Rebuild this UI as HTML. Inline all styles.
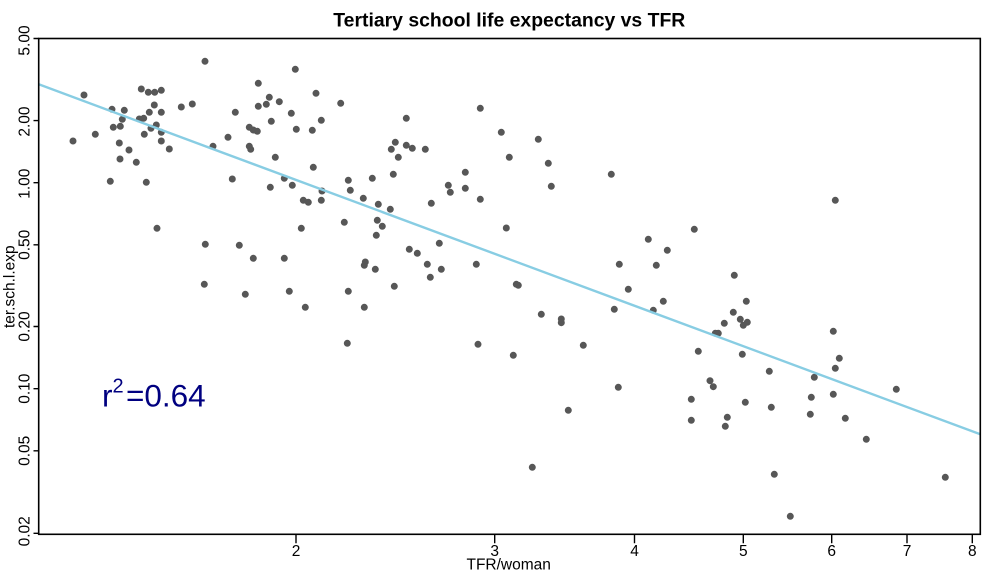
<!DOCTYPE html>
<html>
<head>
<meta charset="utf-8">
<style>
html,body{margin:0;padding:0;background:#fff;}
svg{display:block;}
text{font-family:"Liberation Sans",Arial,sans-serif;fill:#000;}
</style>
</head>
<body>
<svg width="1000" height="573" viewBox="0 0 1000 573" xmlns="http://www.w3.org/2000/svg">
<rect x="0" y="0" width="1000" height="573" fill="#fff"/>
<text x="509.3" y="26.7" font-size="19.4" font-weight="bold" text-anchor="middle">Tertiary school life expectancy vs TFR</text>
<path fill="none" stroke="#575757" stroke-width="7" stroke-linecap="round" d="M84 95h0M73 141h0M95.3 134.3h0M112 109.3h0M124.3 110.3h0M122.3 119.3h0M113.3 127.3h0M120.3 126.3h0M141.3 89h0M148.3 92.3h0M154.7 92.3h0M161.3 90.3h0M154.3 105h0M149.3 112.3h0M161.3 112.3h0M139.3 119h0M143.7 118.3h0M156.3 125h0M151 128.3h0M161.3 132.3h0M144.3 134.3h0M161.3 141h0M169.3 149h0M119.3 143h0M129 150h0M120 159h0M136.3 162.3h0M110.3 181.3h0M146.3 182.3h0M157 228.3h0M181.3 107h0M192.3 104h0M205 61.3h0M235.3 112.3h0M228 137.3h0M213 146.3h0M249.3 127.3h0M253.3 130h0M257.3 131.3h0M249.3 146.3h0M250.7 149.3h0M232.3 179h0M258.3 83.3h0M258.3 106.3h0M266.3 104.3h0M269.3 97.3h0M279.3 101.7h0M271.3 121.3h0M275.3 157.3h0M284.3 178.3h0M270.3 187.3h0M292.3 185.3h0M295.3 69.3h0M291.3 113.3h0M296.3 129.3h0M316 93.3h0M321.3 120.3h0M312.3 130.3h0M313.3 167.3h0M322 191h0M303.3 200.3h0M308.3 202.3h0M321.3 200.3h0M301.3 228.3h0M340.7 103.3h0M205.3 244.3h0M239.3 245.3h0M253.3 258.3h0M284.3 258.3h0M204.3 284.3h0M245.3 294.3h0M289.3 291.3h0M406.3 118.3h0M480.3 108.3h0M395.3 142.3h0M391.3 149.3h0M406.3 145.3h0M412.3 148.3h0M425.3 149.3h0M398.3 157.3h0M501.3 132.3h0M538.3 139.3h0M509.3 157.3h0M548.3 163.3h0M465.3 172.3h0M393.3 174.3h0M372.3 178.3h0M348.3 180.3h0M350.3 190.3h0M448.3 185.3h0M450.3 192.3h0M465.3 188.3h0M480.3 199.3h0M551.3 186.3h0M611.3 174.3h0M363.3 198.3h0M378.3 204.3h0M390.3 209.3h0M431.3 203.3h0M344.3 222.3h0M377.3 220.3h0M382.3 226.3h0M376.3 235.3h0M506.3 228h0M439.3 243.3h0M409.3 249.3h0M417.3 253.3h0M365.3 262h0M364.3 265.3h0M375.3 269.3h0M427.3 264.3h0M441.3 269.3h0M430.3 277.3h0M476.3 264.3h0M619.3 264.3h0M394.3 286.3h0M348.3 291.3h0M516.3 284.3h0M518.3 285.3h0M628.3 289.3h0M364.3 307.3h0M541.3 314.3h0M561.3 319h0M561.3 322.7h0M614.3 309.3h0M305.3 307.3h0M347.3 343.3h0M478 344.3h0M663.3 301.3h0M653.3 310.3h0M746.3 301.3h0M733.3 312.3h0M740.3 319.3h0M747.3 322.3h0M743.3 325.3h0M724.3 323.3h0M715.3 333.3h0M718.3 333.3h0M513.3 355.3h0M583.3 345.3h0M698.3 351.3h0M742.3 354.3h0M769.3 371.3h0M618.3 387.3h0M710 380.7h0M713.3 386.7h0M691.3 399.3h0M745.3 402.3h0M771.3 407.3h0M568.3 410.3h0M691.3 420.3h0M727.3 417.3h0M725.3 426.3h0M532.3 467.3h0M774.3 474.3h0M833.3 331.3h0M839.3 358.3h0M835.3 368.3h0M814.3 377.3h0M833.3 394.3h0M811.3 397.3h0M896.3 389.3h0M810.3 414.3h0M845.3 418.3h0M866.3 439.3h0M945.3 477.3h0M790.3 516.3h0M835.3 200.3h0M694.3 229.3h0M648.3 239.3h0M667.3 250.3h0M656.3 265.3h0M734.3 275.3h0"/>
<line x1="38.7" y1="84.3" x2="980.3" y2="434.3" stroke="#88cde3" stroke-width="2.4"/>
<rect x="38.7" y="38.5" width="941.6" height="495.8" fill="none" stroke="#000" stroke-width="1.6"/>
<path fill="none" stroke="#000" stroke-width="1.4" d="M296 534.3v9M494.7 534.3v9M634.5 534.3v9M743.3 534.3v9M831.7 534.3v9M907 534.3v9M972.3 534.3v9M33.5 38.5h5.2M33.5 120.6h5.2M33.5 182.7h5.2M33.5 244.8h5.2M33.5 326.5h5.2M33.5 388.7h5.2M33.5 450.8h5.2M33.5 533.3h5.2"/>
<g font-size="15.5" text-anchor="middle">
<text x="296" y="556">2</text>
<text x="494.7" y="556">3</text>
<text x="634.5" y="556">4</text>
<text x="743.3" y="556">5</text>
<text x="831.7" y="556">6</text>
<text x="907" y="556">7</text>
<text x="972.3" y="556">8</text>
<text x="508.7" y="569.3">TFR/woman</text>
<text transform="translate(29.5,40.5) rotate(-90)">5.00</text>
<text transform="translate(29.5,121.6) rotate(-90)">2.00</text>
<text transform="translate(29.5,183.7) rotate(-90)">1.00</text>
<text transform="translate(29.5,244.8) rotate(-90)">0.50</text>
<text transform="translate(29.5,326.5) rotate(-90)">0.20</text>
<text transform="translate(29.5,388.7) rotate(-90)">0.10</text>
<text transform="translate(29.5,450.8) rotate(-90)">0.05</text>
<text transform="translate(29.5,531.3) rotate(-90)">0.02</text>
<text transform="translate(14.5,286.7) rotate(-90)">ter.sch.l.exp</text>
</g>
<text x="102" y="406.5" font-size="31.5" style="fill:#000080">r</text>
<text x="112.5" y="392.5" font-size="20" style="fill:#000080">2</text>
<text x="126" y="406.5" font-size="31.5" style="fill:#000080">=0.64</text>
</svg>
</body>
</html>
